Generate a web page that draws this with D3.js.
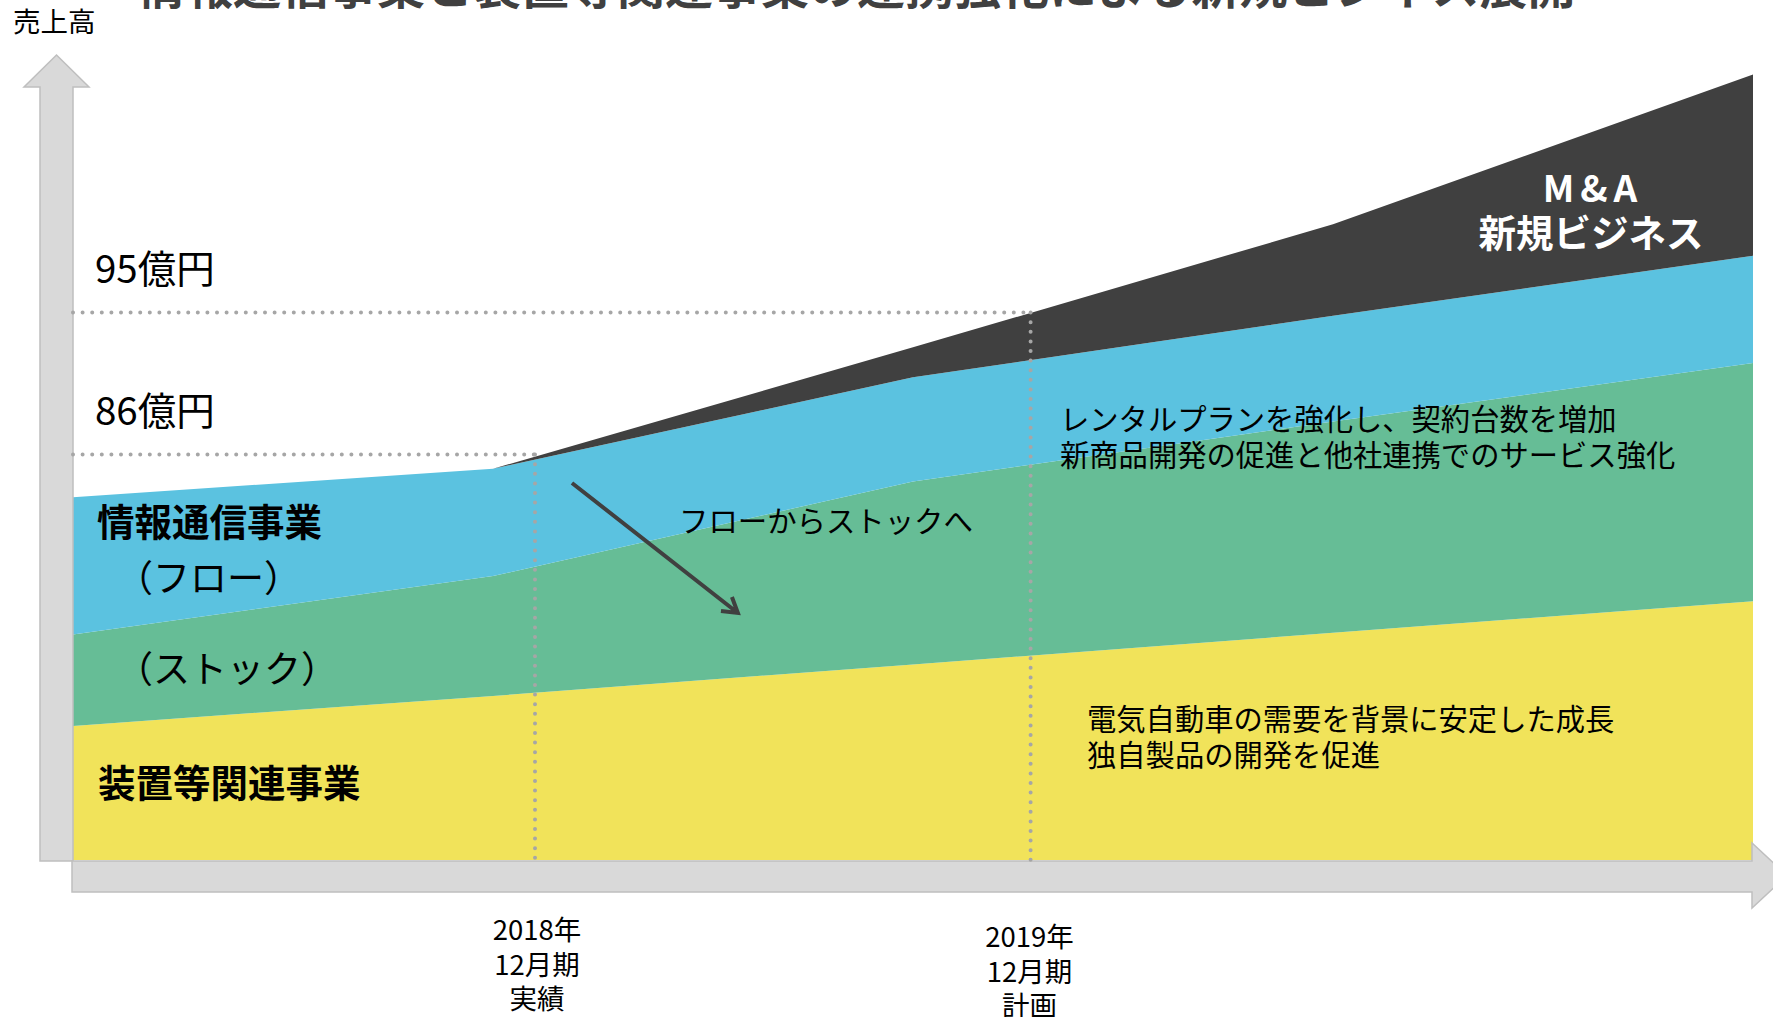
<!DOCTYPE html>
<html lang="ja">
<head>
<meta charset="utf-8">
<script src="https://cdn.jsdelivr.net/npm/d3@7"></script>
<style>
  html, body { margin: 0; padding: 0; background: #fff; overflow: hidden; }
  svg { display: block; font-family: "Noto Sans CJK JP", "Noto Sans", sans-serif; }
</style>
</head>
<body>
<svg id="chart" width="1773" height="1017"></svg>
<script>
// Data (conceptual sales, 億円), five evenly spaced periods
const PERIODS = [0, 1, 2, 3, 4];
const SOUCHI = [8.5, 10.4, 12.4, 14.4, 16.4]; // 装置等関連事業
const STOCK = [5.8, 7.6, 11.6, 13.4, 15.1]; // 情報通信 (ストック)
const FLOW = [8.7, 6.8, 6.6, 6.7, 6.8]; // 情報通信 (フロー)
const MA = [0, 0, 1.9, 5.8, 11.5]; // M&A・新規ビジネス
const BASE = 60.3;

const REF_VALUES = [86, 95];
const REF_LABELS = ["86億円", "95億円"];
const REF_PERIOD = [1.1, 2.28];
const YEAR_LABELS = [
  ["2018年", "12月期", "実績"],
  ["2019年", "12月期", "計画"],
];
const FLOW_ARROW = [
  [1.188, 84.2],
  [1.583, 75.96],
];

const COLORS = {
  souchi: "#f1e35a",
  stock: "#66bd96",
  flow: "#5bc2e0",
  ma: "#404040",
  axisFill: "#d9d9d9",
  axisStroke: "#bfbfbf",
  dots: "#a6a6a6",
  text: "#000",
  title: "#404040",
};

const KEYS = ["souchi", "stock", "flow", "ma"];
const table = PERIODS.map((p, i) => ({
  period: p,
  souchi: SOUCHI[i],
  stock: STOCK[i],
  flow: FLOW[i],
  ma: MA[i],
}));

const svg = d3.select("#chart");
const x = d3.scaleLinear().domain([0, 4]).range([73, 1753]);
const y = d3.scaleLinear().domain([BASE, 110]).range([860, 76]);

// title (cropped at top edge like the slide)
svg
  .append("text")
  .attr("x", 137)
  .attr("y", 4)
  .attr("font-size", 48)
  .attr("font-weight", "bold")
  .attr("fill", COLORS.title)
  .text("情報通信事業と装置等関連事業の連携強化による新規ビジネス展開");

svg
  .append("text")
  .attr("x", 13)
  .attr("y", 32)
  .attr("font-size", 27.5)
  .attr("fill", COLORS.text)
  .text("売上高");

// stacked areas
const series = d3.stack().keys(KEYS)(table);
const area = d3
  .area()
  .x((d) => x(d.data.period))
  .y0((d) => y(BASE + d[0]))
  .y1((d) => y(BASE + d[1]));

svg
  .append("g")
  .selectAll("path")
  .data(series)
  .join("path")
  .attr("fill", (s) => COLORS[s.key])
  .attr("d", area);

// axis arrows
const left = x(0),
  right = x(4),
  bottom = y(BASE);
const yArrow = [
  [left - 33, bottom + 1],
  [left - 33, 87],
  [left - 49, 87],
  [left - 16.5, 55],
  [left + 16, 87],
  [left, 87],
  [left, bottom + 1],
];
const xArrow = [
  [left - 1, bottom + 1],
  [right - 1, bottom + 1],
  [right - 1, bottom - 17],
  [right + 34, bottom + 15.5],
  [right - 1, bottom + 48],
  [right - 1, bottom + 32],
  [left - 1, bottom + 32],
];
svg
  .append("g")
  .selectAll("path")
  .data([yArrow, xArrow])
  .join("path")
  .attr("d", (pts) => d3.line()(pts) + "Z")
  .attr("fill", COLORS.axisFill)
  .attr("stroke", COLORS.axisStroke)
  .attr("stroke-width", 1.5);

// dotted reference lines
const dots = svg.append("g");
REF_VALUES.forEach((v, i) => {
  const lines = [
    [[x(0), y(v)], [x(REF_PERIOD[i]), y(v)]],
    [[x(REF_PERIOD[i]), y(v)], [x(REF_PERIOD[i]), bottom]],
  ];
  lines.forEach((l) => {
    dots
      .append("path")
      .attr("d", d3.line()(l))
      .attr("stroke", COLORS.dots)
      .attr("stroke-width", 4)
      .attr("stroke-linecap", "round")
      .attr("stroke-dasharray", "0 9.6")
      .attr("fill", "none");
  });
  svg
    .append("text")
    .attr("x", 95)
    .attr("y", y(v) - 30)
    .attr("font-size", 38.5)
    .attr("fill", COLORS.text)
    .text(REF_LABELS[i]);
});

// period labels
YEAR_LABELS.forEach((lines, i) => {
  const cx = x(REF_PERIOD[i]) + (i === 0 ? 2 : -1);
  const t = svg
    .append("text")
    .attr("y", 940 + i * 7)
    .attr("font-size", 27.5)
    .attr("text-anchor", "middle")
    .attr("fill", COLORS.text);
  lines.forEach((s, j) => {
    t.append("tspan")
      .attr("x", cx)
      .attr("dy", j === 0 ? 0 : 34.5)
      .text(s);
  });
});

// flow -> stock arrow
const [p0, p1] = FLOW_ARROW.map(([px, pv]) => [x(px), y(pv)]);
const ang = Math.atan2(p1[1] - p0[1], p1[0] - p0[0]);
const wing = (a) => [p1[0] - 17 * Math.cos(ang + a), p1[1] - 17 * Math.sin(ang + a)];
svg
  .append("path")
  .attr("d", d3.line()([p0, p1]) + "M" + wing(0.55) + "L" + p1 + "L" + wing(-0.55))
  .attr("stroke", COLORS.ma)
  .attr("stroke-width", 4)
  .attr("fill", "none");

// labels
const labels = [
  { t: "情報通信事業", x: 97, y: 536, size: 37.5, bold: true },
  { t: "（フロー）", x: 116, y: 592, size: 37 },
  { t: "（ストック）", x: 116, y: 683, size: 37 },
  { t: "装置等関連事業", x: 98, y: 797, size: 37.5, bold: true },
  { t: "フローからストックへ", x: 679, y: 532, size: 29.4 },
  { t: "レンタルプランを強化し、契約台数を増加", x: 1060, y: 430, size: 29.3 },
  { t: "新商品開発の促進と他社連携でのサービス強化", x: 1060, y: 466, size: 29.3 },
  { t: "電気自動車の需要を背景に安定した成長", x: 1087, y: 730, size: 29.3 },
  { t: "独自製品の開発を促進", x: 1087, y: 766, size: 29.3 },
];
svg
  .append("g")
  .selectAll("text")
  .data(labels)
  .join("text")
  .attr("x", (d) => d.x)
  .attr("y", (d) => d.y)
  .attr("font-size", (d) => d.size)
  .attr("font-weight", (d) => (d.bold ? "bold" : "normal"))
  .attr("fill", COLORS.text)
  .text((d) => d.t);

const maLabel = svg
  .append("text")
  .attr("font-weight", "bold")
  .attr("fill", "#fff")
  .attr("text-anchor", "middle");
maLabel.append("tspan").attr("x", 1593).attr("y", 202).attr("font-size", 37).attr("letter-spacing", 6).text("M&A");
maLabel.append("tspan").attr("x", 1591).attr("y", 247).attr("font-size", 37.5).text("新規ビジネス");
</script>
</body>
</html>
